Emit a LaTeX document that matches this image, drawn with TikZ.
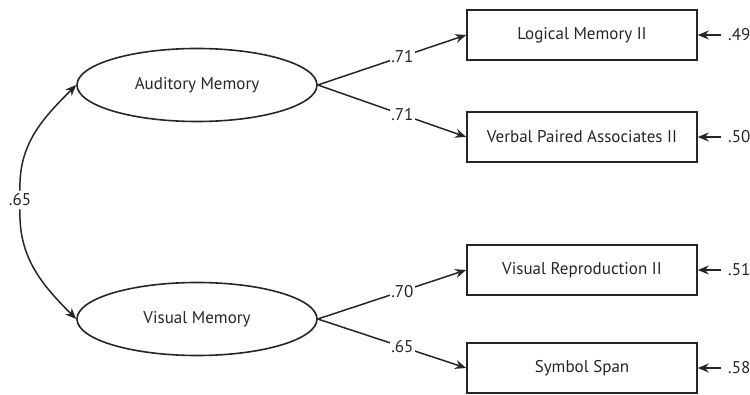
\documentclass[tikz,border=0pt]{standalone}
\usepackage{fontspec}
\setmainfont{PT Sans}
\usetikzlibrary{arrows.meta,shapes.geometric}
\begin{document}
\begin{tikzpicture}[x=1pt,y=-1pt,
  lbl/.style={font=\fontsize{17}{20}\selectfont,text=black!85},
  latent/.style={lbl,ellipse,draw=black!85,line width=1.6pt,minimum width=240pt,minimum height=73pt,inner sep=0pt},
  obs/.style={lbl,rectangle,draw=black!85,line width=1.6pt,minimum width=230pt,minimum height=50pt,inner sep=0pt},
  pth/.style={draw=black!85,line width=1.5pt,-{Stealth[length=11pt,width=9pt]}},
  coef/.style={lbl,fill=white,inner sep=1.5pt}
]
\useasboundingbox (0,0) rectangle (750,395);
\node[latent] (aud) at (197,85) {Auditory Memory};
\node[latent] (vis) at (197,319) {Visual Memory};
\node[obs] (lm) at (582,35) {Logical Memory II};
\node[obs] (vpa) at (582,137) {Verbal Paired Associates II};
\node[obs] (vr) at (582,270) {Visual Reproduction II};
\node[obs] (ss) at (582,368) {Symbol Span};

\draw[pth] (aud.east) -- node[coef,pos=0.57]{.71} (lm.west);
\draw[pth] (aud.east) -- node[coef,pos=0.57]{.71} (vpa.west);
\draw[pth] (vis.east) -- node[coef,pos=0.57]{.70} (vr.west);
\draw[pth] (vis.east) -- node[coef,pos=0.57]{.65} (ss.west);

\node[lbl,inner sep=3pt] (r) at (20,200) {.65};
\draw[pth] (r.north) to[out=92,in=225] (aud.west);
\draw[pth] (r.south) to[out=-92,in=135] (vis.west);

\node[lbl,anchor=west,inner sep=1pt] (e1) at (727,35) {.49};
\node[lbl,anchor=west,inner sep=1pt] (e2) at (727,137) {.50};
\node[lbl,anchor=west,inner sep=1pt] (e3) at (727,270) {.51};
\node[lbl,anchor=west,inner sep=1pt] (e4) at (727,368) {.58};
\coordinate (t1) at (721,35);
\coordinate (t2) at (721,137);
\coordinate (t3) at (721,270);
\coordinate (t4) at (721,368);
\draw[pth] (t1) -- (lm.east);
\draw[pth] (t2) -- (vpa.east);
\draw[pth] (t3) -- (vr.east);
\draw[pth] (t4) -- (ss.east);
\end{tikzpicture}
\end{document}
